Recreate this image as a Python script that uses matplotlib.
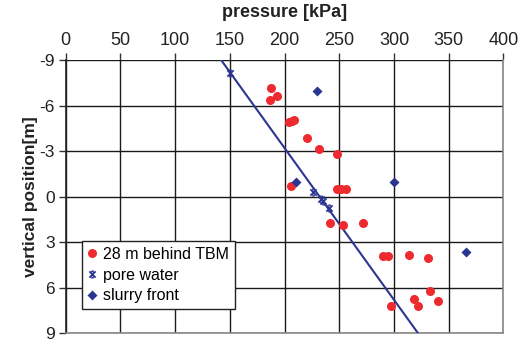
import matplotlib.pyplot as plt
from matplotlib.path import Path

plt.rcParams['font.family'] = ['Liberation Sans', 'DejaVu Sans']
plt.rcParams['axes.unicode_minus'] = False

# 28 m behind TBM (red dots)
behind_p = [188, 186.5, 193, 204, 206.5, 209, 220.5, 231.5, 247.5, 205.5,
            248, 252, 256, 241.5, 253.5, 272, 290, 294.5, 313.5, 331.5,
            333, 318, 340.5, 321.5, 297]
behind_v = [-7.15, -6.35, -6.6, -4.9, -4.98, -5.03, -3.88, -3.12, -2.83, -0.68,
            -0.5, -0.5, -0.5, 1.76, 1.87, 1.76, 3.89, 3.89, 3.85, 4.07,
            6.2, 6.74, 6.88, 7.18, 7.18]

# pore water (crosses)
pore_p = [150, 226, 233, 235, 240.5]
pore_v = [-8.12, -0.32, 0.15, 0.3, 0.77]

# slurry front (diamonds)
slurry_p = [230, 210.5, 300, 365.5]
slurry_v = [-6.98, -0.94, -0.98, 3.63]

# hydrostatic line
line_p = [142, 322]
line_v = [-9, 9]

red = '#ee2a2f'
navy = '#2b3592'

# x with short bars on top and bottom
cross = Path([(-1, -1), (1, 1), (-1, 1), (1, -1),
              (-0.4, 1), (0.4, 1), (-0.4, -1), (0.4, -1)],
             [Path.MOVETO, Path.LINETO, Path.MOVETO, Path.LINETO,
              Path.MOVETO, Path.LINETO, Path.MOVETO, Path.LINETO])

fig = plt.figure(figsize=(5.28, 3.41), dpi=100)
ax = fig.add_axes([0.1245, 0.0226, 0.829, 0.8014])

ax.plot(line_p, line_v, color=navy, lw=1.5, zorder=3)
ax.plot(behind_p, behind_v, 'o', color=red, ms=6.5, mec='none', zorder=4,
        label='28 m behind TBM')
ax.plot(pore_p, pore_v, marker=cross, ls='none', color=navy, ms=4.5, mew=1.3,
        zorder=5, label='pore water')
ax.plot(slurry_p, slurry_v, 'D', color=navy, ms=5, mec='none', zorder=5,
        label='slurry front')

ax.set_xlim(0, 400)
ax.set_ylim(9, -9)
ax.set_xticks(range(0, 401, 50))
ax.set_yticks(range(-9, 10, 3))
ax.xaxis.tick_top()
ax.xaxis.set_label_position('top')
ax.tick_params(axis='both', length=5, width=1, color='#333333',
               labelcolor='#222222', pad=3)
ax.tick_params(axis='x', labelsize=13)
ax.tick_params(axis='y', labelsize=12.5)
ax.set_xlabel('pressure [kPa]', fontsize=13, fontweight='bold', labelpad=11,
              color='#222222')
ax.set_ylabel('vertical position[m]', fontsize=12.5, fontweight='bold',
              labelpad=1, color='#222222')

ax.grid(True, color='#1a1a1a', lw=1)
ax.set_axisbelow(True)
for s in ax.spines.values():
    s.set_color('#888888')
    s.set_linewidth(1.2)
ax.spines['left'].set_color('#222222')
ax.spines['top'].set_visible(False)

leg = ax.legend(loc='lower left', bbox_to_anchor=(0.037, 0.09), fontsize=11.5,
                frameon=True, fancybox=False, edgecolor='#222222',
                framealpha=1, handlelength=0.6, handletextpad=0.4,
                borderpad=0.35, labelspacing=0.35, borderaxespad=0)
leg.get_frame().set_linewidth(1)

fig.savefig('out.png', dpi=100)
